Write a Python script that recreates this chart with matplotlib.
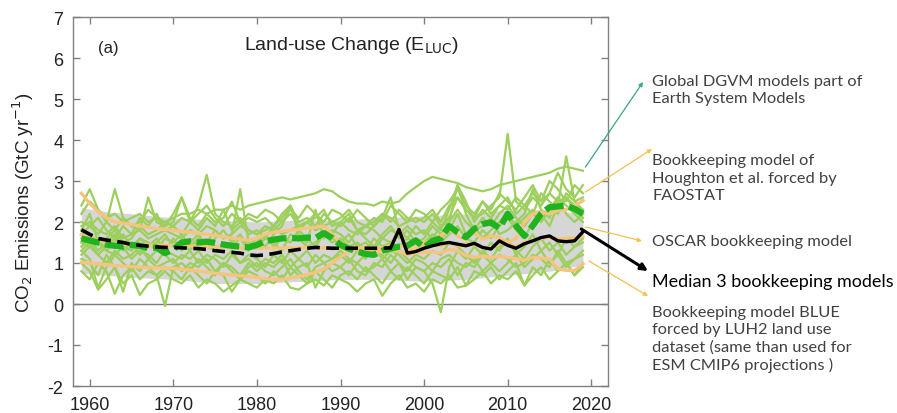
import numpy as np
import matplotlib
matplotlib.use("Agg")
import matplotlib.pyplot as plt

# years 1959..2019
years = list(range(1959, 2020))

# light green: individual DGVMs (1959, then one row per decade)
dgvm_runs = {
    "g1": [2.2,
           2.5, 2.3, 2.1, 2.2, 2.0, 2.1, 2.2, 2.0, 2.1, 2.0,
           2.1, 2.2, 2.2, 2.3, 2.2, 2.3, 2.3, 2.4, 2.3, 2.4,
           2.45, 2.5, 2.55, 2.6, 2.55, 2.6, 2.65, 2.7, 2.8, 2.75,
           2.6, 2.5, 2.45, 2.45, 2.4, 2.5, 2.45, 2.5, 2.7, 2.85,
           3.0, 3.1, 3.05, 3.0, 2.95, 2.85, 2.8, 2.75, 2.8, 2.9,
           2.95, 3.0, 3.05, 3.1, 3.15, 3.2, 3.3, 3.35, 3.3, 3.25],
    "g2": [1.9,
           2.0, 1.8, 1.7, 1.9, 1.6, 1.7, 1.8, 1.6, 1.7, 1.8,
           1.7, 1.6, 1.8, 1.7, 1.9, 1.8, 1.6, 1.7, 1.9, 1.8,
           1.7, 1.8, 1.9, 1.7, 1.8, 1.9, 2.0, 1.8, 1.9, 2.0,
           1.9, 2.1, 1.8, 1.9, 2.0, 2.2, 2.1, 1.9, 2.0, 2.1,
           2.0, 2.2, 1.9, 2.1, 2.6, 2.3, 2.1, 2.2, 2.4, 2.6,
           4.15, 2.5, 2.3, 2.6, 2.4, 2.7, 2.5, 2.6, 2.4, 2.3],
    "g3": [1.6,
           1.7, 1.5, 1.6, 1.8, 1.5, 1.6, 1.9, 1.7, 1.8, 2.0,
           1.9, 2.1, 2.0, 2.4, 3.15, 2.2, 2.0, 1.9, 2.1, 1.8,
           1.7, 1.9, 1.8, 2.0, 2.2, 1.9, 2.0, 2.1, 2.3, 1.9,
           2.0, 1.8, 1.7, 1.9, 1.8, 1.6, 1.8, 1.7, 1.9, 1.7,
           1.8, 1.6, 1.9, 2.0, 2.9, 2.2, 1.8, 1.9, 2.1, 1.7,
           1.8, 2.0, 2.2, 2.8, 2.3, 2.1, 2.6, 2.4, 2.2, 2.0],
    "g4": [1.3,
           1.1, 0.4, 0.9, 1.2, 1.0, 0.8, 1.1, 0.9, 0.7, -0.05,
           0.9, 1.0, 0.8, 1.1, 0.9, 0.7, 1.0, 0.8, 0.6, 0.9,
           1.0, 0.8, 0.7, 0.9, 1.1, 0.8, 0.6, 0.9, 1.0, 0.8,
           0.9, 1.1, 0.8, 0.7, 1.0, 0.9, 1.2, 1.0, 0.8, 1.1,
           1.0, 0.8, 1.1, 1.2, 1.0, 0.9, 1.1, 0.8, 1.0, 1.2,
           1.1, 0.9, 1.0, 1.2, 1.1, 0.9, 1.3, 1.0, 1.1, 1.2],
    "g5": [1.2,
           1.4, 1.2, 1.0, 1.3, 1.1, 1.2, 1.4, 1.1, 1.3, 1.2,
           1.0, 1.2, 1.1, 1.3, 1.0, 1.2, 1.1, 1.3, 1.0, 1.2,
           1.1, 0.9, 1.2, 1.0, 1.3, 1.1, 0.9, 1.2, 1.0, 1.1,
           1.2, 1.0, 1.3, 1.1, 1.4, 1.2, 1.0, 1.3, 1.1, 0.9,
           0.8, 0.5, -0.2, 0.9, 1.3, 1.1, 1.4, 1.2, 1.5, 1.3,
           1.6, 1.2, 1.4, 1.7, 1.3, 1.5, 1.2, 1.6, 1.4, 1.5],
    "g6": [1.0,
           0.8, 0.35, 0.6, 0.9, 0.5, 0.7, 0.22, 0.5, 0.6, 0.8,
           0.6, 0.5, 0.7, 0.4, 0.6, 0.5, 0.3, 0.45, 0.6, 0.5,
           0.4, 0.6, 0.5, 0.7, 0.4, 0.35, 0.5, 0.6, 0.45, 0.7,
           0.6, 0.5, 0.3, 0.5, 0.6, 0.2, 0.5, 0.7, 0.4, 0.5,
           0.3, 0.6, 0.5, 0.7, 0.4, 0.45, 0.6, 0.8, 0.5, 0.7,
           0.6, 0.8, 0.45, 0.7, 0.9, 0.6, 0.8, 1.0, 0.7, 0.9],
    "g7": [2.4,
           2.8, 2.3, 2.0, 2.8, 2.1, 1.9, 2.0, 2.3, 2.1, 1.9,
           2.0, 2.6, 2.1, 1.9, 2.2, 2.0, 2.1, 2.5, 2.0, 2.1,
           2.0, 2.1, 1.9, 2.2, 2.4, 2.0, 2.1, 1.9, 2.2, 2.0,
           2.1, 2.3, 2.0, 1.9, 2.1, 2.0, 2.4, 2.2, 2.0, 2.3,
           2.2, 2.0, 2.3, 2.5, 2.8, 2.4, 2.2, 2.5, 2.3, 2.7,
           2.5, 2.3, 2.6, 2.9, 2.5, 2.7, 3.2, 2.8, 2.6, 2.9],
    "g8": [1.5,
           1.4, 1.6, 1.3, 1.5, 1.7, 1.4, 1.6, 1.5, 1.3, 1.6,
           1.5, 1.7, 1.4, 1.6, 1.5, 1.8, 1.6, 1.7, 2.8, 1.5,
           1.4, 1.6, 1.5, 1.3, 1.7, 1.6, 1.4, 1.5, 1.7, 1.6,
           1.5, 1.7, 1.4, 1.5, 1.3, 1.6, 1.5, 1.4, 1.6, 1.5,
           1.4, 1.6, 1.5, 1.7, 1.9, 1.6, 1.5, 1.8, 1.6, 1.9,
           2.1, 1.8, 1.6, 2.0, 2.2, 1.9, 2.4, 3.6, 2.5, 2.3],
    "g9": [1.8,
           2.2, 1.5, 1.3, 1.2, 1.4, 1.1, 1.3, 1.2, 1.0, 1.3,
           1.2, 1.1, 1.3, 1.0, 1.2, 1.1, 0.9, 1.2, 1.0, 1.1,
           0.9, 1.1, 1.0, 1.2, 0.9, 1.1, 1.3, 1.0, 1.2, 1.1,
           1.3, 1.1, 1.0, 1.2, 1.4, 1.1, 1.3, 1.2, 1.0, 1.2,
           1.1, 1.3, 1.2, 1.5, 1.4, 1.2, 1.0, 1.3, 1.1, 1.4,
           1.5, 1.3, 1.1, 1.4, 1.6, 1.3, 1.5, 1.2, 1.4, 1.6],
    "g10": [2.0,
            1.9, 2.1, 1.8, 1.6, 1.9, 1.7, 2.1, 1.9, 2.2, 1.8,
            1.9, 1.7, 2.0, 1.8, 2.1, 1.9, 2.3, 1.8, 2.0, 1.7,
            1.8, 1.6, 1.9, 2.1, 2.4, 1.8, 2.0, 2.2, 1.9, 1.7,
            2.0, 2.2, 1.8, 1.7, 1.9, 2.1, 2.6, 1.8, 1.6, 1.9,
            1.7, 2.0, 1.8, 2.3, 2.9, 2.5, 2.0, 2.3, 2.1, 2.4,
            2.6, 2.2, 2.4, 2.7, 2.5, 3.0, 2.8, 2.5, 2.9, 2.7],
    "g11": [0.8,
            0.6, 1.0, 0.8, 0.25, 0.7, 0.9, 0.6, 0.8, 0.7, 0.9,
            0.8, 0.6, 0.9, 0.7, 0.5, 0.8, 0.7, 0.3, 0.6, 0.8,
            0.7, 0.5, 0.8, 0.6, 0.9, 0.7, 0.5, 0.8, 0.6, 0.4,
            0.7, 0.8, 0.6, 0.9, 0.7, 0.5, 0.8, 0.6, 0.9, 0.7,
            0.5, 0.8, 0.7, 0.6, 0.9, 0.45, 0.8, 0.7, 0.9, 0.6,
            0.8, 1.0, 0.45, 0.9, 0.7, 1.1, 0.8, 1.0, 0.7, 1.0],
    "g12": [1.4,
            1.6, 1.3, 1.5, 1.7, 1.4, 1.3, 1.6, 1.4, 1.5, 1.7,
            1.4, 1.5, 1.3, 1.6, 1.4, 1.3, 1.5, 1.4, 1.6, 1.3,
            1.5, 1.7, 1.4, 1.6, 1.5, 1.8, 1.6, 1.4, 1.7, 1.5,
            1.6, 1.4, 1.5, 1.3, 1.6, 1.4, 1.5, 1.7, 1.4, 1.6,
            1.5, 1.7, 1.6, 1.8, 2.2, 1.7, 1.9, 1.6, 1.8, 2.0,
            2.2, 1.9, 2.1, 2.3, 2.0, 2.4, 2.2, 2.6, 2.3, 2.1],
    "g13": [1.7,
            1.9, 1.7, 2.0, 1.8, 2.1, 1.9, 1.8, 2.6, 2.0, 1.9,
            2.2, 2.6, 2.0, 2.2, 2.4, 2.1, 1.9, 2.2, 2.0, 2.2,
            2.1, 2.3, 2.2, 2.0, 2.3, 2.1, 2.4, 2.2, 2.0, 2.3,
            2.2, 2.0, 2.3, 2.1, 1.9, 2.2, 2.0, 2.3, 2.1, 2.0,
            2.1, 2.3, 2.0, 2.4, 2.6, 2.3, 2.1, 2.5, 2.2, 2.4,
            2.3, 2.6, 2.4, 2.2, 2.7, 2.5, 2.3, 2.7, 2.5, 2.6],
    "g14": [1.1,
            1.0, 0.7, 1.2, 0.9, 0.3, 1.0, 0.8, 1.1, 0.9, 1.0,
            1.1, 0.8, 1.0, 0.9, 1.1, 0.8, 1.0, 0.9, 0.7, 1.0,
            0.8, 1.0, 0.9, 1.1, 0.7, 0.9, 1.0, 0.4, 0.8, 1.0,
            0.9, 0.7, 1.0, 0.8, 0.9, 1.1, 0.8, 1.0, 0.6, 0.9,
            0.8, 1.0, 0.9, 1.1, 0.7, 1.0, 0.9, 1.2, 1.0, 0.8,
            1.0, 1.2, 0.9, 1.1, 1.3, 1.0, 1.2, 0.9, 1.1, 1.3],
    "g15": [1.3,
            1.5, 1.2, 1.4, 1.6, 1.3, 1.5, 1.2, 1.4, 1.6, 1.3,
            1.6, 1.3, 1.5, 1.7, 1.4, 1.6, 1.8, 1.5, 1.7, 1.4,
            1.6, 1.4, 1.7, 1.9, 2.4, 1.7, 1.5, 2.3, 1.6, 1.8,
            1.7, 1.5, 1.8, 1.6, 1.4, 1.7, 1.9, 1.6, 1.8, 1.5,
            1.6, 1.9, 1.7, 2.0, 2.3, 2.0, 1.8, 2.1, 1.9, 2.2,
            2.4, 2.1, 1.9, 2.2, 2.0, 2.3, 2.6, 2.2, 2.0, 2.2],
}

# grey band (DGVM spread)
band_years = [1959, 1962, 1965, 1970, 1975, 1980, 1985, 1990, 1995, 2000, 2005, 2010, 2015, 2019]
band_lo = [0.75, 0.7, 0.65, 0.6, 0.5, 0.5, 0.55, 0.6, 0.6, 0.55, 0.6, 0.7, 0.8, 0.95]
band_hi = [2.35, 2.25, 2.2, 2.1, 2.05, 2.0, 2.05, 2.05, 2.1, 2.15, 2.2, 2.3, 2.3, 2.2]

# DGVM multi-model mean (thick green)
dgvm_mean = [1.6,
             1.55, 1.5, 1.45, 1.42, 1.4, 1.44, 1.42, 1.36, 1.38, 1.24,
             1.33, 1.5, 1.53, 1.5, 1.52, 1.49, 1.45, 1.42, 1.4, 1.38,
             1.44, 1.53, 1.57, 1.6, 1.61, 1.6, 1.62, 1.61, 1.73, 1.61,
             1.44, 1.35, 1.28, 1.22, 1.2, 1.3, 1.35, 1.4, 1.42, 1.55,
             1.38, 1.54, 1.6, 1.9, 1.75, 1.63, 1.83, 1.95, 1.99, 1.85,
             2.2, 1.91, 1.66, 1.91, 2.2, 2.36, 2.38, 2.4, 2.32, 2.2]

# bookkeeping models (orange)
houghton = [2.7,
            2.45, 2.25, 2.1, 2.0, 1.97, 1.94, 1.9, 1.87, 1.84, 1.82,
            1.8, 1.77, 1.75, 1.72, 1.7, 1.67, 1.64, 1.61, 1.58, 1.55,
            1.6, 1.7, 1.75, 1.78, 1.8, 1.82, 1.85, 1.87, 1.9, 1.7,
            1.5, 1.38, 1.36, 1.38, 1.36, 1.37, 1.38, 1.4, 1.42, 1.45,
            1.5, 1.55, 1.66, 1.83, 1.66, 1.58, 1.74, 1.58, 1.66, 1.62,
            1.5, 1.6, 1.99, 2.2, 2.24, 2.2, 2.28, 2.3, 2.4, 2.52]
oscar = [1.69,
         1.62, 1.55, 1.5, 1.48, 1.46, 1.45, 1.44, 1.44, 1.43, 1.43,
         1.43, 1.42, 1.42, 1.41, 1.4, 1.4, 1.39, 1.38, 1.37, 1.36,
         1.36, 1.36, 1.36, 1.37, 1.37, 1.37, 1.38, 1.38, 1.37, 1.36,
         1.36, 1.35, 1.35, 1.36, 1.36, 1.37, 1.4, 1.85, 1.3, 1.35,
         1.4, 1.45, 1.42, 1.5, 1.42, 1.48, 1.45, 1.38, 1.35, 1.5,
         1.45, 1.4, 1.5, 1.55, 1.6, 1.63, 1.58, 1.6, 1.62, 1.65]
blue = [1.02,
        1.0, 0.98, 0.96, 0.94, 0.92, 0.91, 0.9, 0.89, 0.88, 0.87,
        0.87, 0.85, 0.83, 0.8, 0.78, 0.75, 0.73, 0.71, 0.69, 0.67,
        0.65, 0.62, 0.59, 0.6, 0.63, 0.67, 0.72, 0.77, 0.85, 1.0,
        1.15, 1.28, 1.33, 1.3, 1.28, 1.27, 1.3, 1.29, 1.2, 1.25,
        1.26, 1.27, 1.25, 1.33, 1.3, 1.18, 1.14, 1.17, 1.14, 1.16,
        1.14, 1.1, 1.07, 1.14, 1.12, 1.1, 0.86, 0.82, 0.82, 0.98]

# median of the 3 bookkeeping models (black)
median_bk = [1.81,
             1.7, 1.6, 1.56, 1.53, 1.5, 1.45, 1.43, 1.41, 1.39, 1.38,
             1.38, 1.37, 1.36, 1.35, 1.33, 1.3, 1.28, 1.26, 1.24, 1.2,
             1.18, 1.2, 1.23, 1.27, 1.3, 1.33, 1.36, 1.38, 1.37, 1.36,
             1.36, 1.36, 1.36, 1.36, 1.36, 1.36, 1.37, 1.82, 1.24, 1.28,
             1.36, 1.42, 1.47, 1.5, 1.46, 1.42, 1.48, 1.38, 1.34, 1.54,
             1.43, 1.36, 1.47, 1.54, 1.62, 1.66, 1.54, 1.52, 1.54, 1.76]
solid_from = 1996

yticks = list(range(-2, 8))
xticks = list(range(1960, 2030, 10))

plt.rcParams['font.family'] = ['Liberation Sans', 'DejaVu Sans']
plt.rcParams['axes.unicode_minus'] = False

W, H = 897, 414
fig = plt.figure(figsize=(W / 100, H / 100), dpi=100)
ax = fig.add_axes([73 / W, 1 - 387 / H, 535 / W, 369 / H])

yrs = np.array(years)
ax.fill_between(band_years, band_lo, band_hi, color='#d6d6d6', lw=0, zorder=1)
ax.axhline(0, color='#7a7a7a', lw=1.0, zorder=1.5)

for name, vals in dgvm_runs.items():
    ax.plot(yrs, vals, color='#9ccf5c', lw=1.6, zorder=2)

for vals in (houghton, oscar, blue):
    ax.plot(yrs, vals, color='#f7c47f', lw=2.4, zorder=3)

ax.plot(yrs, dgvm_mean, color='#1fb41f', lw=4.5, dashes=(3, 0.9), zorder=4)

med = np.array(median_bk)
m_dash = yrs <= solid_from
ax.plot(yrs[m_dash], med[m_dash], color='black', lw=2.6, dashes=(3.5, 1.8), zorder=5)
ax.plot(yrs[yrs >= solid_from], med[yrs >= solid_from], color='black', lw=2.4, zorder=5)

ax.set_xlim(1958, 2022)
ax.set_ylim(-2, 7)
ax.set_xticks(xticks)
ax.set_yticks(yticks)
ax.tick_params(direction='in', top=True, right=True, length=5, width=1,
               color='#808080', labelsize=13, labelcolor='#222222', pad=7)
for s in ax.spines.values():
    s.set_color('#808080')
    s.set_linewidth(1.0)

ax.set_ylabel('CO$_2$ Emissions (GtC yr$^{-1}$)', fontsize=13.5, color='#222222')
ax.yaxis.set_label_coords(-0.07, 0.5)

ax.text(0.521, 0.925, 'Land-use Change (E$_{\\mathrm{LUC}}$)', transform=ax.transAxes,
        ha='center', va='center', fontsize=14, color='#222222')
ax.text(0.066, 0.918, '(a)', transform=ax.transAxes, ha='center', va='center',
        fontsize=12, color='#222222')

# annotations on the right
def fpix(px, py):
    return (px / W, 1 - py / H)

note_font = ['Lato', 'DejaVu Sans']
notes = [
    ("Global DGVM models part of\nEarth System Models", 90.5, '#404040', 11.8),
    ("Bookkeeping model of\nHoughton et al. forced by\nFAOSTAT", 178.5, '#404040', 11.8),
    ("OSCAR bookkeeping model", 242, '#404040', 11.8),
    ("Median 3 bookkeeping models", 282, 'black', 13),
    ("Bookkeeping model BLUE\nforced by LUH2 land use\ndataset (same than used for\nESM CMIP6 projections )", 339.5, '#404040', 11.8),
]
for txt, py, col, fs in notes:
    fx, fy = fpix(652, py)
    fig.text(fx, fy, txt, ha='left', va='center', fontsize=fs, color=col,
             family=note_font, linespacing=1.3)

arrows = [
    ((2019.3, 3.34), (643, 83), '#3aa58a', 0.9, 6),
    ((2019.3, 2.73), (652, 150), '#f2c14e', 0.9, 6),
    ((2019.3, 1.88), (642, 242), '#f2c14e', 0.9, 6),
    ((2019.7, 1.05), (648, 297), '#f2c14e', 0.9, 6),
    ((2018.8, 1.83), (648, 272), 'black', 2.2, 10),
]
for start, tip, col, lw, hs in arrows:
    ax.annotate('', xy=fpix(*tip), xycoords='figure fraction',
                xytext=start, textcoords='data', annotation_clip=False,
                arrowprops=dict(arrowstyle='-|>', color=col, lw=lw,
                                mutation_scale=hs, shrinkA=0, shrinkB=0))

fig.savefig('out.png', dpi=100)
